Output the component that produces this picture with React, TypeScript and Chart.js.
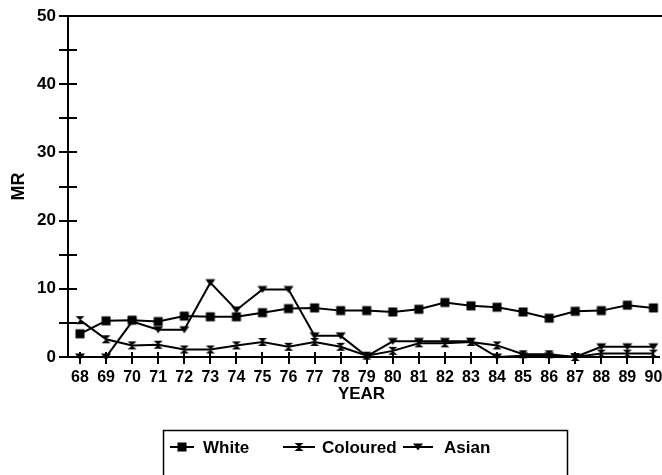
import React, { useEffect, useRef } from "react";
import { Chart, registerables } from "chart.js";

Chart.register(...registerables);

const years = [68, 69, 70, 71, 72, 73, 74, 75, 76, 77, 78, 79, 80, 81, 82, 83, 84, 85, 86, 87, 88, 89, 90];
const white = [3.4, 5.3, 5.4, 5.2, 6.0, 5.9, 5.9, 6.5, 7.1, 7.2, 6.8, 6.8, 6.6, 7.0, 8.0, 7.5, 7.3, 6.6, 5.7, 6.7, 6.8, 7.6, 7.2];
const coloured = [5.4, 2.6, 1.7, 1.8, 1.1, 1.1, 1.7, 2.2, 1.5, 2.2, 1.5, 0.2, 0.9, 2.0, 2.0, 2.2, 1.7, 0.4, 0.4, 0.0, 0.5, 0.5, 0.5];
const asian = [0, 0, 5.2, 4.0, 4.0, 10.9, 6.9, 9.9, 9.9, 3.1, 3.1, 0.1, 2.3, 2.3, 2.3, 2.3, 0, 0.2, 0.2, 0, 1.5, 1.5, 1.5];
const seriesNames = ["White", "Coloured", "Asian"];
const yTickValues = [0, 10, 20, 30, 40, 50];
const yMinorValues = [5, 15, 25, 35, 45];

const FONT = "'Liberation Sans', Arial, sans-serif";

function makeMarker(kind: string): HTMLCanvasElement {
  const c = document.createElement("canvas");
  c.width = 12;
  c.height = 12;
  const g = c.getContext("2d")!;
  g.fillStyle = "#000";
  g.beginPath();
  if (kind === "square") {
    g.rect(1.5, 1.5, 9, 9);
  } else if (kind === "hourglass") {
    g.moveTo(1.5, 2);
    g.lineTo(10.5, 2);
    g.lineTo(6, 6);
    g.lineTo(10.5, 10);
    g.lineTo(1.5, 10);
    g.lineTo(6, 6);
    g.closePath();
  } else {
    g.moveTo(1, 2.5);
    g.lineTo(11, 2.5);
    g.lineTo(6, 9.5);
    g.closePath();
  }
  g.fill();
  return c;
}

export default function App() {
  const ref = useRef<HTMLCanvasElement | null>(null);

  useEffect(() => {
    if (!ref.current) return;
    const markers = [makeMarker("square"), makeMarker("hourglass"), makeMarker("tri")];
    const values = [white, coloured, asian];

    const decor = {
      id: "decor",
      afterDraw(chart: any) {
        const ctx = chart.ctx;
        const xs = chart.scales.x;
        const ys = chart.scales.y;
        const ca = chart.chartArea;
        ctx.save();
        ctx.strokeStyle = "#000";
        ctx.lineWidth = 2;
        ctx.beginPath();
        [...yTickValues, ...yMinorValues].forEach((v) => {
          const py = Math.round(ys.getPixelForValue(v));
          ctx.moveTo(ca.left - 9, py);
          ctx.lineTo(v === 50 ? chart.width : ca.left + 9, py);
        });
        // x axis line continues to the right edge
        const py0 = Math.round(ys.getPixelForValue(0));
        ctx.moveTo(ca.left, py0);
        ctx.lineTo(chart.width - 2, py0);
        years.forEach((yr) => {
          const px = Math.round(xs.getPixelForValue(yr));
          ctx.moveTo(px, ca.bottom - 5);
          ctx.lineTo(px, ca.bottom + 7);
        });
        ctx.stroke();

        // legend
        ctx.lineWidth = 1.5;
        ctx.strokeRect(163.5, 430.5, 404, 60);
        const items = [
          { l1: 170, l2: 194, m: 182, t: 203 },
          { l1: 283, l2: 315, m: 299, t: 322 },
          { l1: 403, l2: 433, m: 418, t: 444 },
        ];
        const ly = 447;
        ctx.font = `bold 17px ${FONT}`;
        ctx.fillStyle = "#000";
        ctx.textBaseline = "middle";
        items.forEach((it, i) => {
          ctx.lineWidth = 2;
          ctx.beginPath();
          ctx.moveTo(it.l1, ly);
          ctx.lineTo(it.l2, ly);
          ctx.stroke();
          ctx.drawImage(markers[i], it.m - 6, ly - 6);
          ctx.fillText(seriesNames[i], it.t, ly + 1);
        });
        ctx.restore();
      },
    };

    const chart = new Chart(ref.current, {
      type: "line",
      data: {
        datasets: seriesNames.map((name, i) => ({
          label: name,
          data: years.map((yr, j) => ({ x: yr, y: values[i][j] })),
          borderColor: "#000",
          backgroundColor: "#000",
          borderWidth: 2,
          pointStyle: markers[i],
          pointRadius: 5,
          tension: 0,
          clip: false,
        })),
      },
      options: {
        responsive: false,
        animation: false,
        events: [],
        layout: { padding: { top: 16, right: 2, left: 0, bottom: 69 } },
        plugins: { legend: { display: false }, tooltip: { enabled: false } },
        scales: {
          x: {
            type: "linear",
            min: 67.54,
            max: 90.06,
            afterFit(scale: any) {
              scale.height = 49;
              scale.paddingLeft = 0;
              scale.paddingRight = 0;
            },
            afterBuildTicks(scale: any) {
              scale.ticks = years.map((v) => ({ value: v }));
            },
            grid: { display: false, drawTicks: false },
            border: { display: true, color: "#000", width: 2 },
            ticks: {
              autoSkip: false,
              maxRotation: 0,
              minRotation: 0,
              padding: 11,
              color: "#000",
              font: { family: FONT, weight: "bold", size: 16 },
            },
            title: {
              display: true,
              text: "YEAR",
              color: "#000",
              padding: { top: 0, bottom: 1 },
              font: { family: FONT, weight: "bold", size: 17 },
            },
          },
          y: {
            min: 0,
            max: 50,
            afterFit(scale: any) {
              scale.width = 68;
              scale.paddingTop = 0;
              scale.paddingBottom = 0;
            },
            afterBuildTicks(scale: any) {
              scale.ticks = yTickValues.map((v) => ({ value: v }));
            },
            grid: { display: false, drawTicks: false },
            border: { display: true, color: "#000", width: 2 },
            ticks: {
              padding: 12,
              color: "#000",
              font: { family: FONT, weight: "bold", size: 17 },
            },
            title: {
              display: true,
              text: "MR",
              color: "#000",
              padding: { top: 8, bottom: 0 },
              font: { family: FONT, weight: "bold", size: 18 },
            },
          },
        },
      },
      plugins: [decor],
    } as any);
    return () => chart.destroy();
  }, []);

  return (
    <div style={{ position: "fixed", left: 0, top: 0, width: 662, height: 475, background: "#fff" }}>
      <canvas ref={ref} width={662} height={475} style={{ display: "block" }} />
    </div>
  );
}
